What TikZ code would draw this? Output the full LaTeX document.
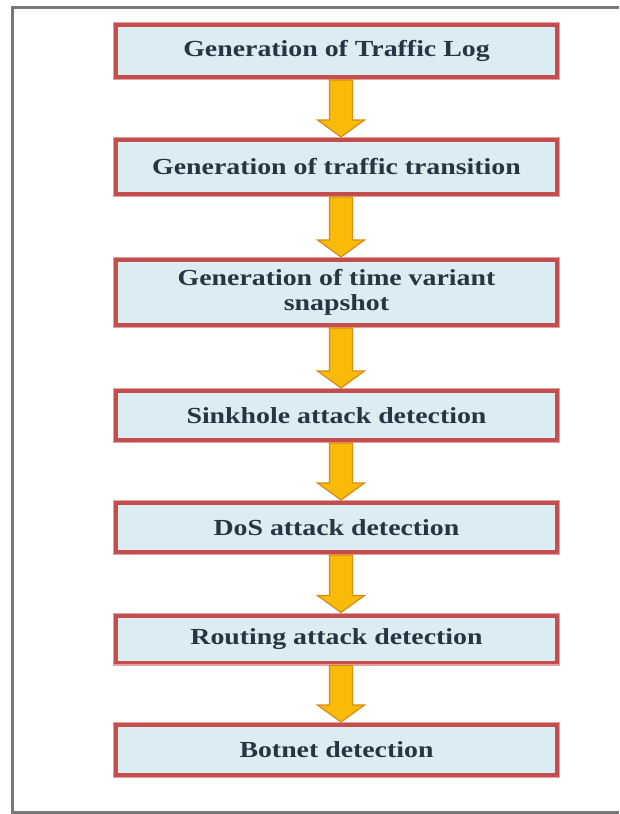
\documentclass[tikz,border=0pt]{standalone}
\usepackage{fontspec}
\setmainfont{Liberation Serif}[FakeStretch=1.21]
\usetikzlibrary{calc}
\definecolor{boxfill}{RGB}{220,236,243}
\definecolor{boxline}{RGB}{196,78,78}
\definecolor{boxhalo}{RGB}{226,160,160}
\definecolor{arrfill}{RGB}{250,186,10}
\definecolor{arrline}{RGB}{214,140,20}
\definecolor{txt}{RGB}{40,52,66}
\definecolor{frame}{RGB}{120,120,120}
\tikzset{
  stepbox/.style={draw=boxline, line width=5pt, fill=boxfill, minimum width=442pt,
    inner sep=0pt, align=center, text=txt,
    font=\fontsize{23}{25}\selectfont\bfseries},
  halo/.style={draw=boxhalo, line width=1.2pt},
  flowarrow/.style={fill=arrfill, draw=arrline, line width=1.2pt, line join=miter}
}
\newcommand\flowarr[2]{%
  \path[flowarrow] let \p1=(#1.south), \p2=(#2.north) in
    ({\x1+4.5pt-11.5pt},\y1) -- ({\x1+4.5pt+11.5pt},\y1) --
    ({\x1+4.5pt+11.5pt},{\y2+17pt}) -- ({\x1+4.5pt+23.5pt},{\y2+17pt}) --
    ({\x1+4.5pt},\y2) -- ({\x1+4.5pt-23.5pt},{\y2+17pt}) --
    ({\x1+4.5pt-11.5pt},{\y2+17pt}) -- cycle;}
\begin{document}
\begin{tikzpicture}[x=1pt,y=-1pt]
\useasboundingbox (0,0) rectangle (619,814);
\fill[white] (0,0) rectangle (619,814);
% frame
\draw[frame, line width=3pt] (619,7.5) -- (12.5,7.5) -- (12.5,812) -- (619,812);
% boxes
\node[stepbox, minimum height=53pt] (b1) at (336.5,51) {Generation of Traffic Log};
\node[stepbox, minimum height=55pt] (b2) at (336.5,167) {Generation of traffic transition};
\node[stepbox, minimum height=66pt] (b3) at (336.5,292.5) {Generation of time variant\\snapshot};
\node[stepbox, minimum height=50pt] (b4) at (336.5,415.5) {Sinkhole attack detection};
\node[stepbox, minimum height=50pt] (b5) at (336.5,527.5) {DoS attack detection};
\node[stepbox, minimum height=48pt] (b6) at (336.5,639) {Routing attack detection};
\node[stepbox, minimum height=51pt] (b7) at (336.5,750) {Botnet detection};
\foreach \b in {b1,b2,b3,b4,b5,b6,b7}{
  \draw[halo] ($(\b.south west)+(0.6,-0.6)$) rectangle ($(\b.north east)+(-0.6,0.6)$);
}
% arrows
\flowarr{b1}{b2}
\flowarr{b2}{b3}
\flowarr{b3}{b4}
\flowarr{b4}{b5}
\flowarr{b5}{b6}
\flowarr{b6}{b7}
\end{tikzpicture}
\end{document}
